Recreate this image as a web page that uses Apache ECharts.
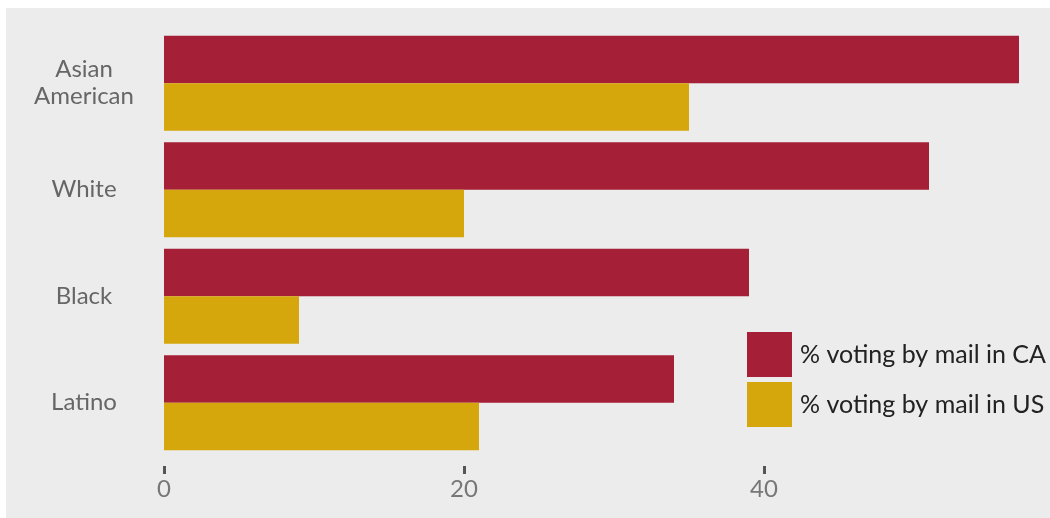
<!DOCTYPE html>
<html><head><meta charset="utf-8">
<script src="https://cdn.jsdelivr.net/npm/echarts@6/dist/echarts.min.js"></script>
<style>html,body{margin:0;padding:0;background:#fff}#c{position:absolute;left:6px;top:8px;width:1044px;height:510px;background:#ebeceb}</style>
</head><body><div id="c"></div>
<script>
const categories = ["Asian\nAmerican", "White", "Black", "Latino"];
const seriesNames = ["% voting by mail in CA", "% voting by mail in US"];
const caValues = [57, 51, 39, 34];
const usValues = [35, 20, 9, 21];
const tickValues = [0, 20, 40];

const chart = echarts.init(document.getElementById('c'));
chart.setOption({
  backgroundColor: '#ebeceb',
  animation: false,
  textStyle: {fontFamily: 'Lato'},
  grid: {left: 158, right: 16, top: 22, bottom: 62},
  legend: {
    orient: 'vertical', left: 741, top: 324, padding: 0,
    itemWidth: 45, itemHeight: 45, itemGap: 5,
    icon: 'rect',
    textStyle: {fontSize: 25, color: '#222', fontFamily: 'Lato', padding: [0,0,0,3]},
    data: seriesNames
  },
  xAxis: {
    type: 'value', min: 0, max: 58, interval: 20,
    offset: 10,
    splitLine: {show: false},
    axisLine: {show: false},
    axisTick: {show: true, length: 8, lineStyle: {color: '#555', width: 3}, customValues: tickValues},
    axisLabel: {fontSize: 24, color: '#777', margin: 11, customValues: tickValues}
  },
  yAxis: {
    type: 'category', data: categories, inverse: true,
    axisLine: {show: false}, axisTick: {show: false},
    axisLabel: {fontSize: 24, color: '#666', align: 'center', margin: 80, lineHeight: 27}
  },
  series: [
    {name: seriesNames[0], type: 'bar', data: caValues, itemStyle: {color: '#a51f37'}, barGap: '0%', barCategoryGap: '11%'},
    {name: seriesNames[1], type: 'bar', data: usValues, itemStyle: {color: '#d5a70c'}, barGap: '0%', barCategoryGap: '11%'}
  ]
});
</script></body></html>
